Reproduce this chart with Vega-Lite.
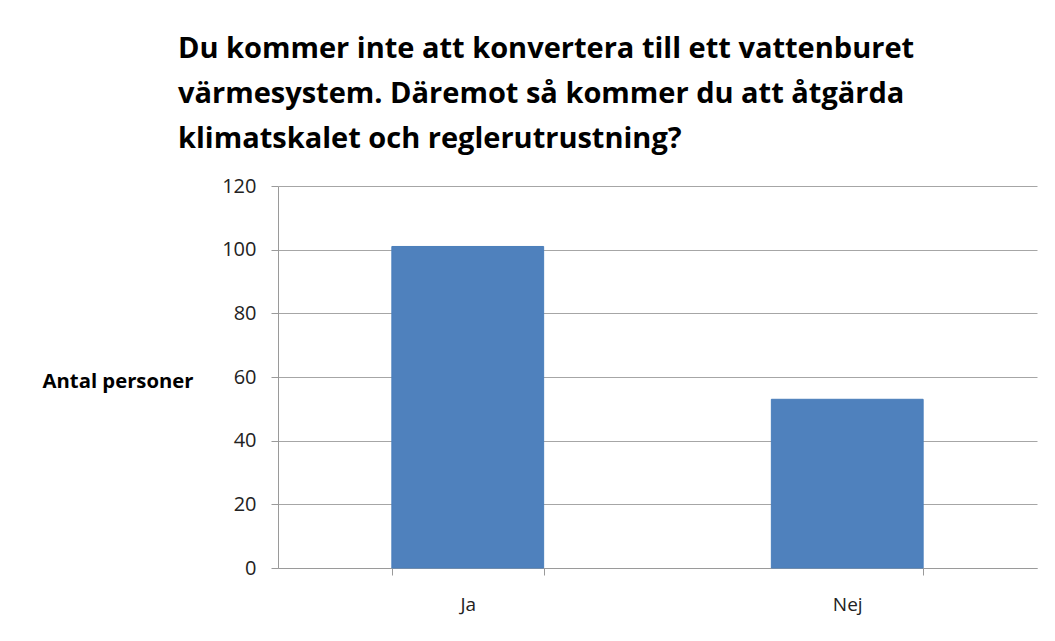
{
  "$schema": "https://vega.github.io/schema/vega-lite/v6.json",
  "width": 759,
  "height": 382,
  "autosize": {"type": "none"},
  "padding": {"left": 278, "top": 186, "right": 18, "bottom": 73},
  "background": "white",
  "title": {
    "text": ["Du kommer inte att konvertera till ett vattenburet", "värmesystem. Däremot så kommer du att åtgärda", "klimatskalet och reglerutrustning?"],
    "anchor": "start",
    "frame": "group",
    "dx": -100,
    "offset": 22,
    "font": "Open Sans",
    "fontSize": 29,
    "fontWeight": "bold",
    "lineHeight": 45,
    "color": "black"
  },
  "data": {"values": [
    {"svar": "Ja", "antal": 101},
    {"svar": "Nej", "antal": 53}
  ]},
  "mark": {"type": "bar", "fill": "#4F81BD", "stroke": "#4A7EBB", "strokeWidth": 1},
  "encoding": {
    "x": {
      "field": "svar", "type": "nominal", "sort": null,
      "scale": {"paddingInner": 0.6, "paddingOuter": 0.3},
      "axis": {"title": null, "labelAngle": 0, "tickBand": "extent", "tickSize": 7, "labelPadding": 20, "domainColor": "#9a9a9a", "tickColor": "#9a9a9a", "labelFont": "Open Sans", "labelFontSize": 19, "labelColor": "#222222", "grid": false}
    },
    "y": {
      "field": "antal", "type": "quantitative",
      "scale": {"domain": [0, 120]},
      "axis": {"values": [0, 20, 40, 60, 80, 100, 120], "title": "Antal personer", "titleAngle": 0, "titleAlign": "left", "titleBaseline": "middle", "titleX": -236, "titleY": 195, "titleFont": "Open Sans", "titleFontSize": 20.3, "titleFontWeight": "bold", "titleColor": "black", "tickSize": 7, "labelPadding": 15, "domainColor": "#9a9a9a", "tickColor": "#9a9a9a", "gridColor": "#a6a6a6", "labelFont": "Open Sans", "labelFontSize": 20, "labelColor": "#222222"}
    }
  },
  "config": {"view": {"stroke": null}}
}
